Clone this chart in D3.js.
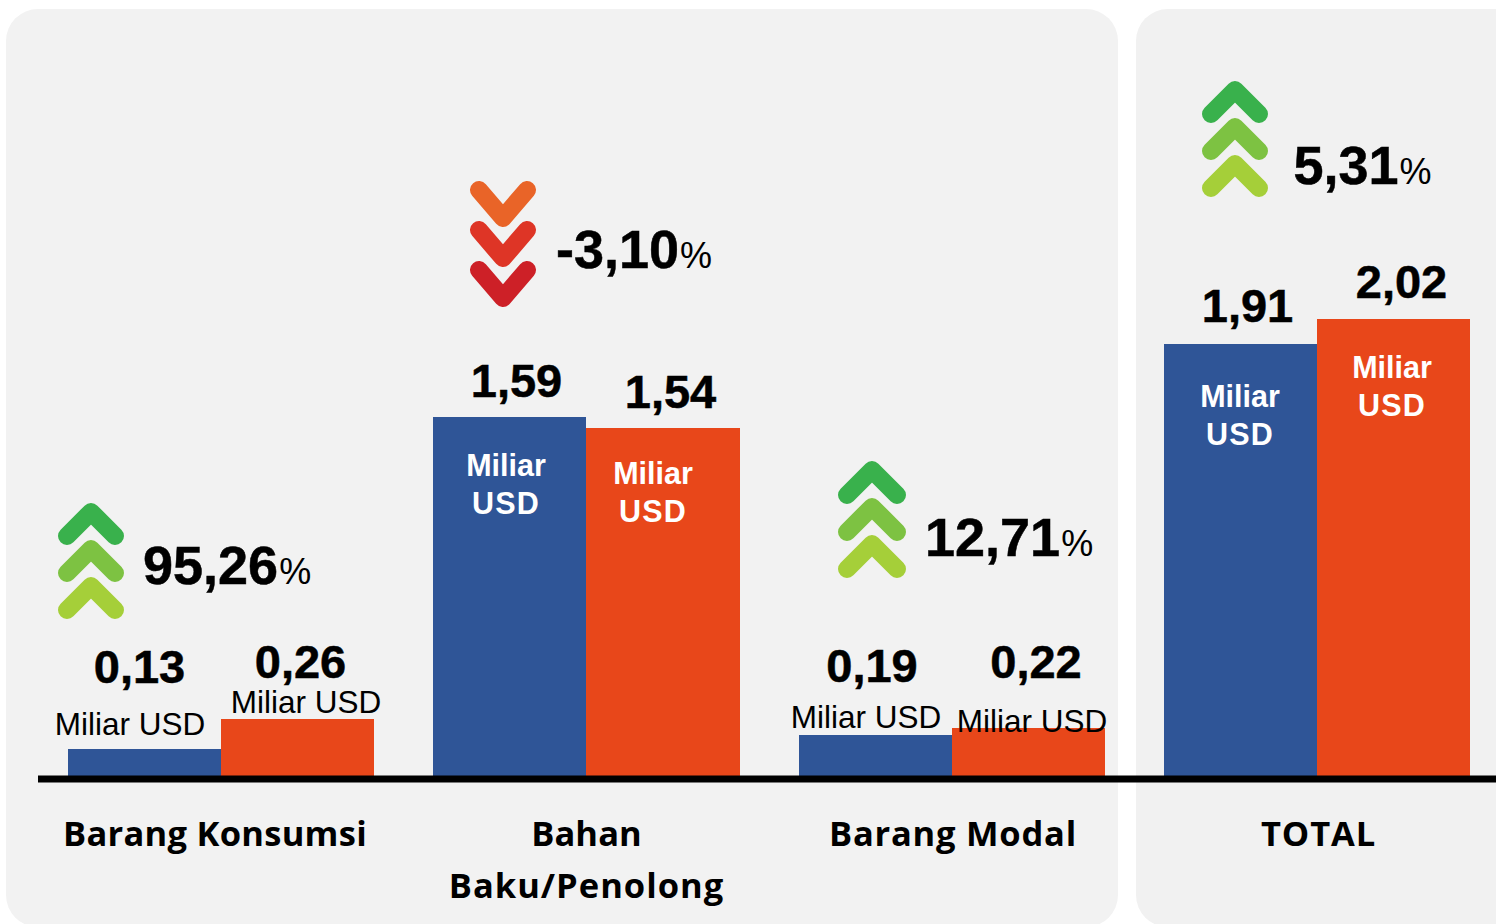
<!DOCTYPE html>
<html><head><meta charset="utf-8">
<script src="https://cdn.jsdelivr.net/npm/d3@7"></script>
<style>html,body{margin:0;padding:0;background:#fff}svg{display:block}</style></head>
<body><svg id="c" width="1496" height="924"></svg>
<script>
const categories=["Barang Konsumsi","Bahan Baku/Penolong","Barang Modal","TOTAL"];
const series=["before","after"];
const beforeValues=[0.13,1.59,0.19,1.91];
const afterValues=[0.26,1.54,0.22,2.02];
const changeValues=[95.26,-3.10,12.71,5.31];
const seriesColors=["#2f5597","#e8471a"];
const upColors=["#39b14c","#7dc242","#a5cf39"];
const downColors=["#e96428","#de3526","#cd2027"];
const unit="Miliar USD";

const fmt=v=>v.toFixed(2).replace(".",",");
const svg=d3.select("#c");
const sans="'Liberation Sans',Arial,sans-serif";
const cat="'Open Sans',sans-serif";

// panels
svg.append("rect").attr("x",6).attr("y",9).attr("width",1112).attr("height",918).attr("rx",32).attr("fill","#f2f2f2");
svg.append("rect").attr("x",1136).attr("y",9).attr("width",420).attr("height",918).attr("rx",32).attr("fill","#f1f1f1");

const x0=d3.scaleBand().domain(categories).range([68,1470.4]).paddingInner(0.1624);
const x1=d3.scaleBand().domain(series).range([0,x0.bandwidth()]);
const y=d3.scaleLinear().domain([0.01,2.02]).range([776,319]);

const rows=categories.map((c,i)=>({c,i,vals:[beforeValues[i],afterValues[i]]}));
rows.forEach(r=>{
  r.vals.forEach((v,k)=>{
    svg.append("rect").attr("x",x0(r.c)+x1(series[k])).attr("y",y(v))
      .attr("width",x1.bandwidth()).attr("height",776-y(v)).attr("fill",seriesColors[k])
      .attr("shape-rendering","crispEdges");
  });
});

// axis line
svg.append("rect").attr("x",38).attr("y",775.5).attr("width",1458).attr("height",7).attr("fill","#000");

// value labels: [cx, baseline]
const valuePos=[[139.5,683],[300.5,678],[516.5,397],[670.5,408],[872,682],[1036,678],[1247.5,322],[1401.5,298]];
[...beforeValues.flatMap((v,i)=>[v,afterValues[i]])].forEach((v,i)=>{
  svg.append("text").attr("x",valuePos[i][0]).attr("y",valuePos[i][1]).attr("text-anchor","middle")
   .attr("font-family",sans).attr("font-weight",700).attr("font-size",47).attr("fill","#000")
   .attr("stroke","#000").attr("stroke-width",0.5).text(fmt(v));
});
// unit labels in small bars
[[130,735],[306,713],[866,728],[1032,732]].forEach(p=>{
  svg.append("text").attr("x",p[0]).attr("y",p[1]).attr("text-anchor","middle")
   .attr("font-family",sans).attr("font-size",31.5).attr("fill","#000").text(unit);
});
// unit labels in tall bars
[[506,476],[653,484],[1240,407],[1392,378]].forEach(p=>{
  const parts=unit.split(" ");
  parts.forEach((t,j)=>{
    svg.append("text").attr("x",p[0]).attr("y",p[1]+j*38).attr("text-anchor","middle")
     .attr("font-family",sans).attr("font-weight",700).attr("font-size",30.5)
     .attr("letter-spacing",j?1.2:0).attr("fill","#fff").text(t);
  });
});

// change labels
const changePos=[[143,584],[556,268],[925,556],[1293.5,184]];
const chevPos=[[91,503,24,37],[503,181,24,40],[872,461,25,37],[1235,81,24,37]];
const line=d3.line();
changeValues.forEach((v,i)=>{
  const [cx,top,w,gap]=chevPos[i];
  const up=v>=0;
  const cols=up?upColors:downColors;
  cols.forEach((col,j)=>{
    const yy=top+9+gap*j;
    const pts=up?[[cx-w,yy+w],[cx,yy],[cx+w,yy+w]]:[[cx-w,yy],[cx,yy+w+(gap>37?4:0)],[cx+w,yy]];
    svg.append("path").attr("d",line(pts)).attr("fill","none").attr("stroke",col)
      .attr("stroke-width",18).attr("stroke-linecap","round").attr("stroke-linejoin","round");
  });
  const t=svg.append("text").attr("x",changePos[i][0]).attr("y",changePos[i][1])
    .attr("font-family",sans).attr("fill","#000");
  t.append("tspan").attr("font-weight",700).attr("font-size",54).attr("stroke","#000").attr("stroke-width",0.5).text(fmt(v));
  t.append("tspan").attr("dx",1).attr("font-size",36).text("%");
});

// category labels
const catLines=[["Barang Konsumsi"],["Bahan","Baku/Penolong"],["Barang Modal"],["TOTAL"]];
const catSpacing=[[0.26],[0.1,1],[0.78],[0.85]];
const catX=[215,586.5,953,1318.5];
catLines.forEach((ls,i)=>ls.forEach((t,j)=>{
  svg.append("text").attr("x",catX[i]).attr("y",846+j*52).attr("text-anchor","middle")
    .attr("font-family",cat).attr("font-weight",700).attr("font-size",34.5)
    .attr("letter-spacing",catSpacing[i][j]).attr("fill","#000").text(t);
}));
</script></body></html>
